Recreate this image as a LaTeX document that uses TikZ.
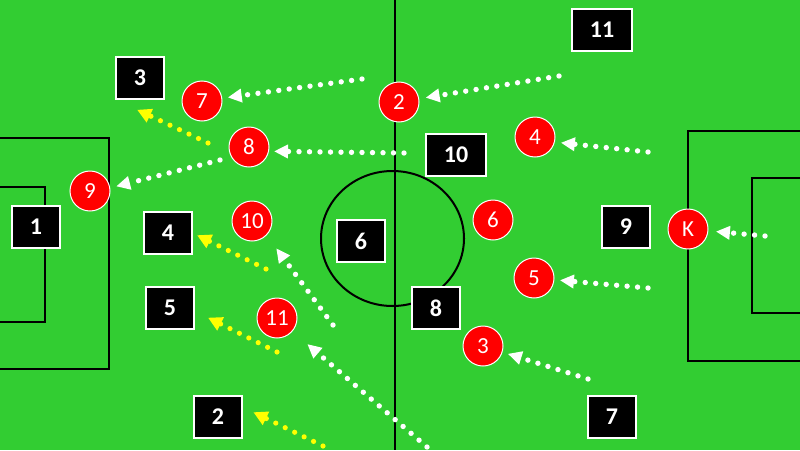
\documentclass[tikz,border=0pt]{standalone}
\usepackage{fontspec}
\setmainfont{Carlito}
\usetikzlibrary{arrows.meta}
\definecolor{pitch}{RGB}{50,205,50}
\definecolor{ylw}{RGB}{255,255,0}
\tikzset{
  redp/.style={circle,minimum size=40pt,inner sep=0pt,fill=red,draw=white,line width=1pt,text=white,font=\fontsize{23}{23}\selectfont},
  blkp/.style={rectangle,minimum width=48pt,minimum height=42pt,inner sep=0pt,fill=black,draw=white,line width=1.2pt,text=white,font=\fontsize{24}{24}\selectfont\bfseries},
  wide/.style={minimum width=60pt},
  fieldline/.style={draw=black,line width=2pt},
  wrun/.style={white,line width=5.4pt,line cap=round,dash pattern=on 0pt off 10.5pt,-{Triangle[length=14pt,width=13pt]}},
  yrun/.style={ylw,line width=5.2pt,line cap=round,dash pattern=on 0pt off 10.5pt,-{Triangle[length=14pt,width=14pt]}},
}
\begin{document}
\begin{tikzpicture}[x=1pt,y=-1pt]
\useasboundingbox (0,0) rectangle (800,450);
\fill[pitch] (0,0) rectangle (800,450);
% field markings
\draw[fieldline] (395,0) -- (395,450);
\draw[fieldline] (392.5,238.5) ellipse[x radius=71.5pt,y radius=67.5pt];
\draw[fieldline] (-2,138) -- (109,138) -- (109,369) -- (-2,369);
\draw[fieldline] (-2,187) -- (45,187) -- (45,322) -- (-2,322);
\draw[fieldline] (802,131) -- (688,131) -- (688,361) -- (802,361);
\draw[fieldline] (802,178) -- (752,178) -- (752,313) -- (802,313);
% black players
\node[blkp] (b1) at (36,227) {1};
\node[blkp] (b2) at (218,417) {2};
\node[blkp] (b3) at (140,78) {3};
\node[blkp] (b4) at (168,233) {4};
\node[blkp] (b5) at (170,308) {5};
\node[blkp] (b6) at (361,241) {6};
\node[blkp] (b7) at (612,417) {7};
\node[blkp] (b8) at (436,308) {8};
\node[blkp] (b9) at (626,227) {9};
\node[blkp,wide] (b10) at (456,155) {10};
\node[blkp,wide] (b11) at (602,30) {11};
% red players
\node[redp] (r2) at (399,102) {2};
\node[redp] (r3) at (483,346) {3};
\node[redp] (r4) at (535,137) {4};
\node[redp] (r5) at (534,278) {5};
\node[redp] (r6) at (493,220) {6};
\node[redp] (r7) at (202,101) {7};
\node[redp] (r8) at (249,147) {8};
\node[redp] (r9) at (90,191) {9};
\node[redp] (r10) at (252,221) {10};
\node[redp] (r11) at (277,318) {11};
\node[redp] (rK) at (688,229) {K};
% run start points
\coordinate (w1) at (362,79);
\coordinate (w2) at (559,76);
\coordinate (w3) at (404,153);
\coordinate (w4) at (220,160);
\coordinate (w5) at (648,152);
\coordinate (w6) at (765,236);
\coordinate (w7) at (648,288);
\coordinate (w8) at (588,379);
\coordinate (w9) at (333,325);
\coordinate (w10) at (427,447);
\coordinate (y1) at (208,143);
\coordinate (y2) at (266,269);
\coordinate (y3) at (277,352);
\coordinate (y4) at (323,446);
% white runs
\draw[wrun,shorten >=26pt] (w1) -- (r7.center);
\draw[wrun,shorten >=27pt] (w2) -- (r2.center);
\draw[wrun,shorten >=25pt] (w3) -- ([yshift=-4pt]r8.center);
\draw[wrun,shorten >=27pt] (w4) -- ([yshift=-2pt]r9.center);
\draw[wrun,shorten >=26pt] (w5) -- ([yshift=-3pt]r4.center);
\draw[wrun,shorten >=28pt] (w6) -- (rK.center);
\draw[wrun,shorten >=26pt] (w7) -- (r5.center);
\draw[wrun,shorten >=26pt] (w8) -- (r3.center);
\draw[wrun,shorten >=34pt] (w9) -- ([xshift=4pt]r10.center);
\draw[wrun,shorten >=40pt] (w10) -- (r11.center);
% yellow runs
\draw[yrun,shorten >=24pt] (y1) -- (b3.south west);
\draw[yrun,shorten >=5pt] (y2) -- (b4.east);
\draw[yrun,shorten >=15pt] (y3) -- ([yshift=-3pt]b5.east);
\draw[yrun,shorten >=12pt] (y4) -- ([yshift=10pt]b2.east);
\end{tikzpicture}
\end{document}
